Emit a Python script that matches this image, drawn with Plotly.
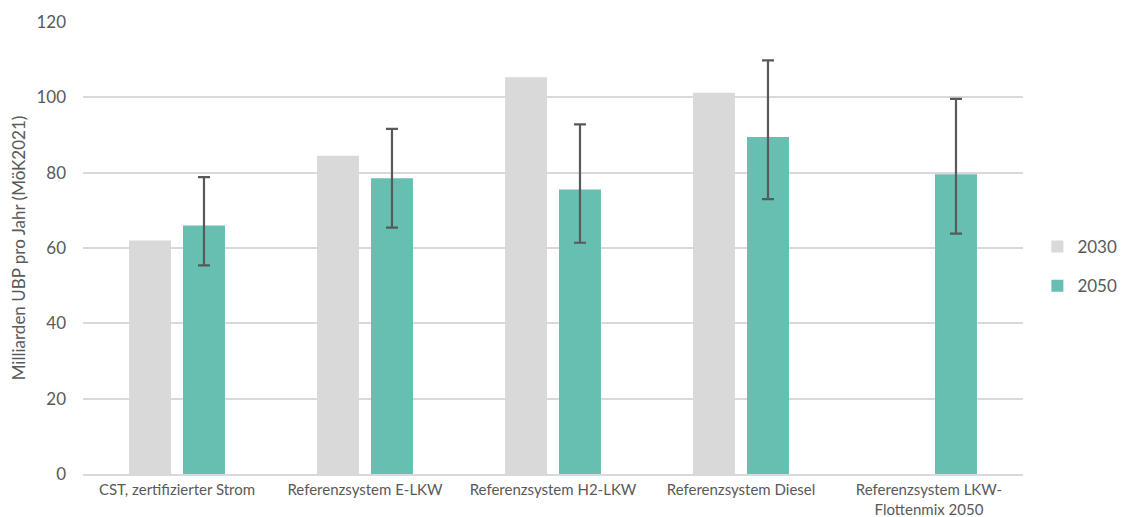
import plotly.graph_objects as go

categories = ["CST, zertifizierter Strom", "Referenzsystem E-LKW", "Referenzsystem H2-LKW",
              "Referenzsystem Diesel", "Referenzsystem LKW-<br>Flottenmix 2050"]
values_2030 = [62, 84.5, 105.3, 101.2, None]
values_2050 = [66, 78.5, 75.5, 89.5, 79.6]
err_upper_2050 = [78.8, 91.6, 92.8, 109.8, 99.6]
err_lower_2050 = [55.4, 65.4, 61.4, 73.0, 63.8]

plus = [u - v for u, v in zip(err_upper_2050, values_2050)]
minus = [v - l for v, l in zip(values_2050, err_lower_2050)]

fig = go.Figure()
fig.add_trace(go.Bar(name="2030", x=categories, y=values_2030, marker_color="#d9d9d9",
                     marker_line_width=0, legendgroup="a"))
fig.add_trace(go.Bar(name="2050", x=categories, y=values_2050, marker_color="#67bfb2",
                     marker_line_width=0, legendgroup="b",
                     error_y=dict(type="data", symmetric=False, array=plus, arrayminus=minus,
                                  color="#595959", thickness=2.2, width=6)))

fig.update_layout(
    width=1125, height=517,
    margin=dict(l=75, r=110, t=14, b=51, autoexpand=False),
    plot_bgcolor="white", paper_bgcolor="white",
    barmode="group", bargap=0.426, bargroupgap=0.222,
    font=dict(family="Lato, Open Sans, sans-serif", color="#595959"),
    legend=dict(xref="container", yref="container", x=0.915, y=0.5, xanchor="left", yanchor="middle",
                font=dict(size=17, color="#595959"), itemwidth=30, traceorder="grouped",
                tracegroupgap=14),
    yaxis=dict(range=[0, 120], dtick=20, showgrid=True, gridcolor="#d9d9d9", gridwidth=2,
               zeroline=False, tickfont=dict(size=17, color="#595959"), automargin=False,
               title=dict(text="Milliarden UBP pro Jahr (MöK2021)",
                          font=dict(size=17, color="#595959"),
                          standoff=12),
               ticks="", ticklabelstandoff=16),
    xaxis=dict(showline=True, linecolor="#d9d9d9", linewidth=2, automargin=False,
               tickfont=dict(size=15, color="#595959"), ticks="", ticklabelstandoff=1),
)
fig.write_html("out.html")
